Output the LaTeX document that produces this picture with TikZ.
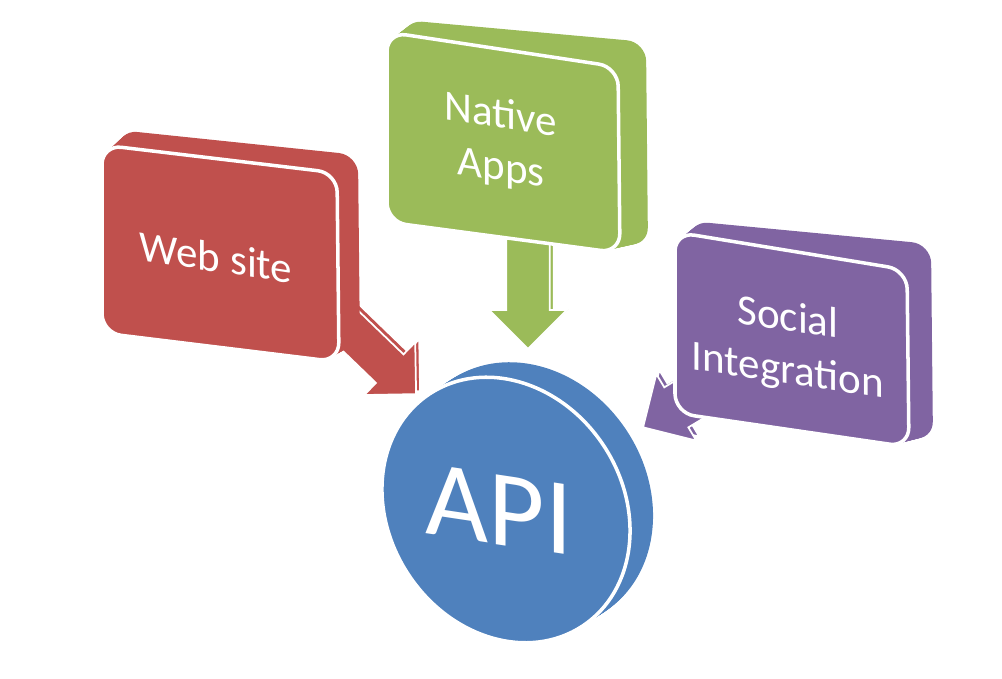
\documentclass[tikz,border=0pt]{standalone}
\usepackage{fontspec}
\setmainfont{Carlito}
\usetikzlibrary{calc, shapes.arrows}
\definecolor{webred}{HTML}{C0504D}
\definecolor{appgreen}{HTML}{9BBB59}
\definecolor{socpurple}{HTML}{8064A2}
\definecolor{apiblue}{HTML}{4F81BD}

\begin{document}
\begin{tikzpicture}[x=0.02cm, y=-0.02cm,
  slab/.style={fill=#1, rounded corners=11pt},
  face/.style={fill=#1, draw=white, line width=2pt, rounded corners=11pt},
  flow/.style={single arrow, single arrow tip angle=90, fill=#1, draw=white,
    line width=1pt, inner xsep=0pt, anchor=tip},
  webflow/.style={flow=webred, rotate=-44, minimum height=62pt,
    inner ysep=10.8pt, single arrow head extend=9.6pt},
  appflow/.style={flow=appgreen, rotate=-90, minimum height=68pt,
    inner ysep=11.9pt, single arrow head extend=9.6pt},
  socflow/.style={flow=socpurple, rotate=211, minimum height=57pt,
    inner ysep=12.8pt, single arrow head extend=8.8pt},
  caption/.style={text=white, font=\fontsize{24.5}{30}\selectfont,
    align=center, yslant=-0.15}]

\useasboundingbox (0,0) rectangle (1002,679);

% Corners of the boxes: front face (f) and back face (b)
\coordinate (rf1) at (102,145); \coordinate (rb1) at (118,130);
\coordinate (rf2) at (337,173); \coordinate (rb2) at (358,155);
\coordinate (rf3) at (339,362); \coordinate (rb3) at (360,350);
\coordinate (rf4) at (102,333); \coordinate (rb4) at (118,320);

\coordinate (gf1) at (387,32);  \coordinate (gb1) at (403,20);
\coordinate (gf2) at (618,67);  \coordinate (gb2) at (646,42);
\coordinate (gf3) at (620,253); \coordinate (gb3) at (648,247);
\coordinate (gf4) at (387,222); \coordinate (gb4) at (403,210);

\coordinate (pf1) at (675,232); \coordinate (pb1) at (689,221);
\coordinate (pf2) at (907,270); \coordinate (pb2) at (931,244);
\coordinate (pf3) at (909,447); \coordinate (pb3) at (933,441);
\coordinate (pf4) at (675,413); \coordinate (pb4) at (689,403);

% Arrow tips
\coordinate (webtip) at (417,395);
\coordinate (apptip) at (528,350);
\coordinate (soctip) at (642,428);

% Arrows (side first, then front)
\node[webflow] at ($(webtip)+(4,-3)$) {};
\node[webflow] (webarrow) at (webtip) {};
\node[appflow] at ($(apptip)+(4,-2)$) {};
\node[appflow] (apparrow) at (apptip) {};
\node[socflow] at ($(soctip)+(3,-4)$) {};
\node[socflow] (socarrow) at (soctip) {};

% Box 1: Web site
\foreach \s in {1,0.95,...,0}
  \fill[slab=webred] ($(rf1)!\s!(rb1)$) -- ($(rf2)!\s!(rb2)$) -- ($(rf3)!\s!(rb3)$) -- ($(rf4)!\s!(rb4)$) -- cycle;
\draw[face=webred] (rf1) -- (rf2) -- (rf3) -- (rf4) -- cycle;
\node[caption] (web) at (216,257) {Web site};

% Box 2: Native Apps
\foreach \s in {1,0.95,...,0}
  \fill[slab=appgreen] ($(gf1)!\s!(gb1)$) -- ($(gf2)!\s!(gb2)$) -- ($(gf3)!\s!(gb3)$) -- ($(gf4)!\s!(gb4)$) -- cycle;
\draw[face=appgreen] (gf1) -- (gf2) -- (gf3) -- (gf4) -- cycle;
\node[caption] (native) at (501,143) {Native\\Apps};

% Box 3: Social Integration
\foreach \s in {1,0.95,...,0}
  \fill[slab=socpurple] ($(pf1)!\s!(pb1)$) -- ($(pf2)!\s!(pb2)$) -- ($(pf3)!\s!(pb3)$) -- ($(pf4)!\s!(pb4)$) -- cycle;
\draw[face=socpurple] (pf1) -- (pf2) -- (pf3) -- (pf4) -- cycle;
\node[caption] (social) at (788,346) {Social\\Integration};

% Disc: API
\foreach \s in {1,0.95,...,0}
  \fill[apiblue, rotate around={-56.7:(506+23*\s,510-15*\s)}]
    (506+23*\s,510-15*\s) ellipse [x radius=139, y radius=117];
\draw[apiblue, fill=apiblue, draw=white, line width=2pt, rotate around={-56.7:(506,510)}]
  (506,510) ellipse [x radius=139, y radius=117];
\node[caption, font=\fontsize{62}{70}\selectfont] (api) at (499,510) {API};

\end{tikzpicture}
\end{document}
